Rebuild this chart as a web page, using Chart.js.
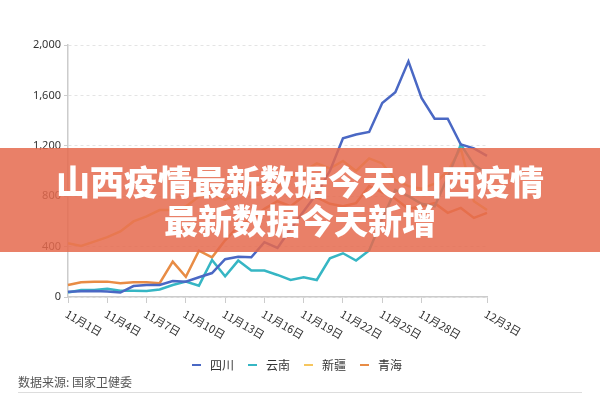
<!DOCTYPE html>
<html>
<head>
<meta charset="utf-8">
<script src="https://cdn.jsdelivr.net/npm/chart.js@4.4.1/dist/chart.umd.min.js"></script>
<style>
  body { margin: 0; background: #fff; }
  #wrap { position: relative; width: 600px; height: 400px; overflow: hidden; font-family: "Noto Sans CJK SC", "Noto Sans", sans-serif; }
  #chart { position: absolute; left: 0; top: 0; }
  #banner { position: absolute; left: 0; top: 148px; width: 600px; height: 104px; background: rgba(229, 106, 78, 0.85); color: #fff; font-weight: 900; font-size: 34px; text-align: center; }
  #banner div { position: absolute; left: 0; width: 600px; line-height: 38px; }
  #legend { position: absolute; left: 0; top: 356px; width: 594px; display: flex; justify-content: center; font-size: 12px; color: #333; }
  #legend span.item { display: flex; align-items: center; margin: 0 7px; }
  #legend i { display: inline-block; width: 9px; height: 2px; margin-right: 9px; }
  #source { position: absolute; left: 18px; top: 373px; font-size: 12px; color: #555; }
  #rule { position: absolute; left: 18px; top: 392px; width: 564px; height: 1px; background: #ddd; }
</style>
</head>
<body>
<div id="wrap">
  <canvas id="chart" width="600" height="400"></canvas>
  <div id="banner">
    <div style="top:14px">山西疫情最新数据今天:山西疫情</div>
    <div style="top:53px">最新数据今天新增</div>
  </div>
  <div id="legend"></div>
  <div id="source">数据来源: 国家卫健委</div>
  <div id="rule"></div>
</div>
<script>
// dates 11月1日 .. 12月3日
const days = [];
for (let d = 1; d <= 30; d++) days.push("11月" + d + "日");
days.push("12月1日", "12月2日", "12月3日");

const tickIndex = [0, 3, 6, 9, 12, 15, 18, 21, 24, 27, 32];
const yTicks = [0, 400, 800, 1200, 1600, 2000];

const sichuan = [42, 45, 48, 44, 35, 87, 95, 95, 127, 122, 157, 190, 300, 320, 315, 435, 390, 540, 680, 820, 1000, 1260, 1290, 1310, 1540, 1625, 1870, 1580, 1415, 1415, 1210, 1180, 1120];
const yunnan = [35, 56, 56, 65, 50, 50, 48, 60, 95, 122, 90, 294, 165, 289, 210, 210, 175, 135, 157, 135, 307, 347, 289, 370, 620, 850, 800, 740, 720, 950, 1210, 1050, 980];
const xinjiang = [427, 405, 440, 475, 520, 600, 640, 690, 690, 718, 797, 818, 771, 818, 880, 900, 870, 950, 1000, 1060, 1020, 1080, 1000, 1100, 1060, 930, 880, 860, 900, 1000, 1180, 760, 690];
const qinghai = [95, 117, 122, 122, 109, 117, 117, 109, 281, 161, 368, 315, 450, 560, 620, 700, 760, 720, 800, 790, 740, 720, 745, 880, 830, 780, 700, 720, 745, 668, 707, 628, 668];

const names = ["四川", "云南", "新疆", "青海"];
const colors = ["#4a68c4", "#36b6c4", "#f6c65f", "#e88c45"];
const series = [sichuan, yunnan, xinjiang, qinghai];

// rotated date labels hanging down to the right of each tick
const xLabels = {
  id: "xLabels",
  afterDraw(chart) {
    const xs = chart.scales.x;
    const ctx = chart.ctx;
    ctx.save();
    ctx.font = '11px "Noto Sans CJK SC"';
    ctx.fillStyle = "#333";
    ctx.textAlign = "left";
    ctx.textBaseline = "top";
    xs.ticks.forEach(t => {
      const px = xs.getPixelForValue(t.value);
      ctx.save();
      ctx.translate(px + 1, xs.top + 11);
      ctx.rotate(Math.PI / 6);
      ctx.fillText(xs.getLabelForValue(t.value), 0, 0);
      ctx.restore();
    });
    ctx.restore();
  }
};

new Chart(document.getElementById("chart"), {
  type: "line",
  data: {
    labels: days,
    datasets: series.map((s, i) => ({
      label: names[i],
      data: s,
      borderColor: colors[i],
      backgroundColor: colors[i],
      borderWidth: 2.5,
      pointRadius: 0,
      tension: 0,
    })),
  },
  options: {
    responsive: false,
    animation: false,
    layout: { padding: { top: 45, right: 113, left: 0, bottom: 0 } },
    plugins: { legend: { display: false }, tooltip: { enabled: false } },
    scales: {
      x: {
        offset: false,
        afterBuildTicks: axis => { axis.ticks = tickIndex.map(v => ({ value: v })); },
        afterFit: axis => { axis.height = 103; },
        ticks: { display: false, autoSkip: false },
        grid: { drawOnChartArea: false, drawTicks: true, tickLength: 6, color: "#ccc" },
        border: { display: true, color: "#ccc", width: 1.5 },
      },
      y: {
        min: 0,
        max: 2000,
        afterBuildTicks: axis => { axis.ticks = yTicks.map(v => ({ value: v })); },
        afterFit: axis => { axis.width = 68; },
        ticks: {
          padding: 3,
          color: "#333",
          font: { family: "Noto Sans", size: 11 },
          callback: v => v.toLocaleString("en-US"),
        },
        grid: { color: "#e4e4e4", tickLength: 4, tickColor: "#ccc" },
        border: { display: true, color: "#ccc", width: 1.5, dash: [3, 3] },
      },
    },
  },
  plugins: [xLabels],
});

const legend = document.getElementById("legend");
names.forEach((n, i) => {
  const it = document.createElement("span");
  it.className = "item";
  it.innerHTML = '<i style="background:' + colors[i] + '"></i>' + n;
  legend.appendChild(it);
});
</script>
</body>
</html>
